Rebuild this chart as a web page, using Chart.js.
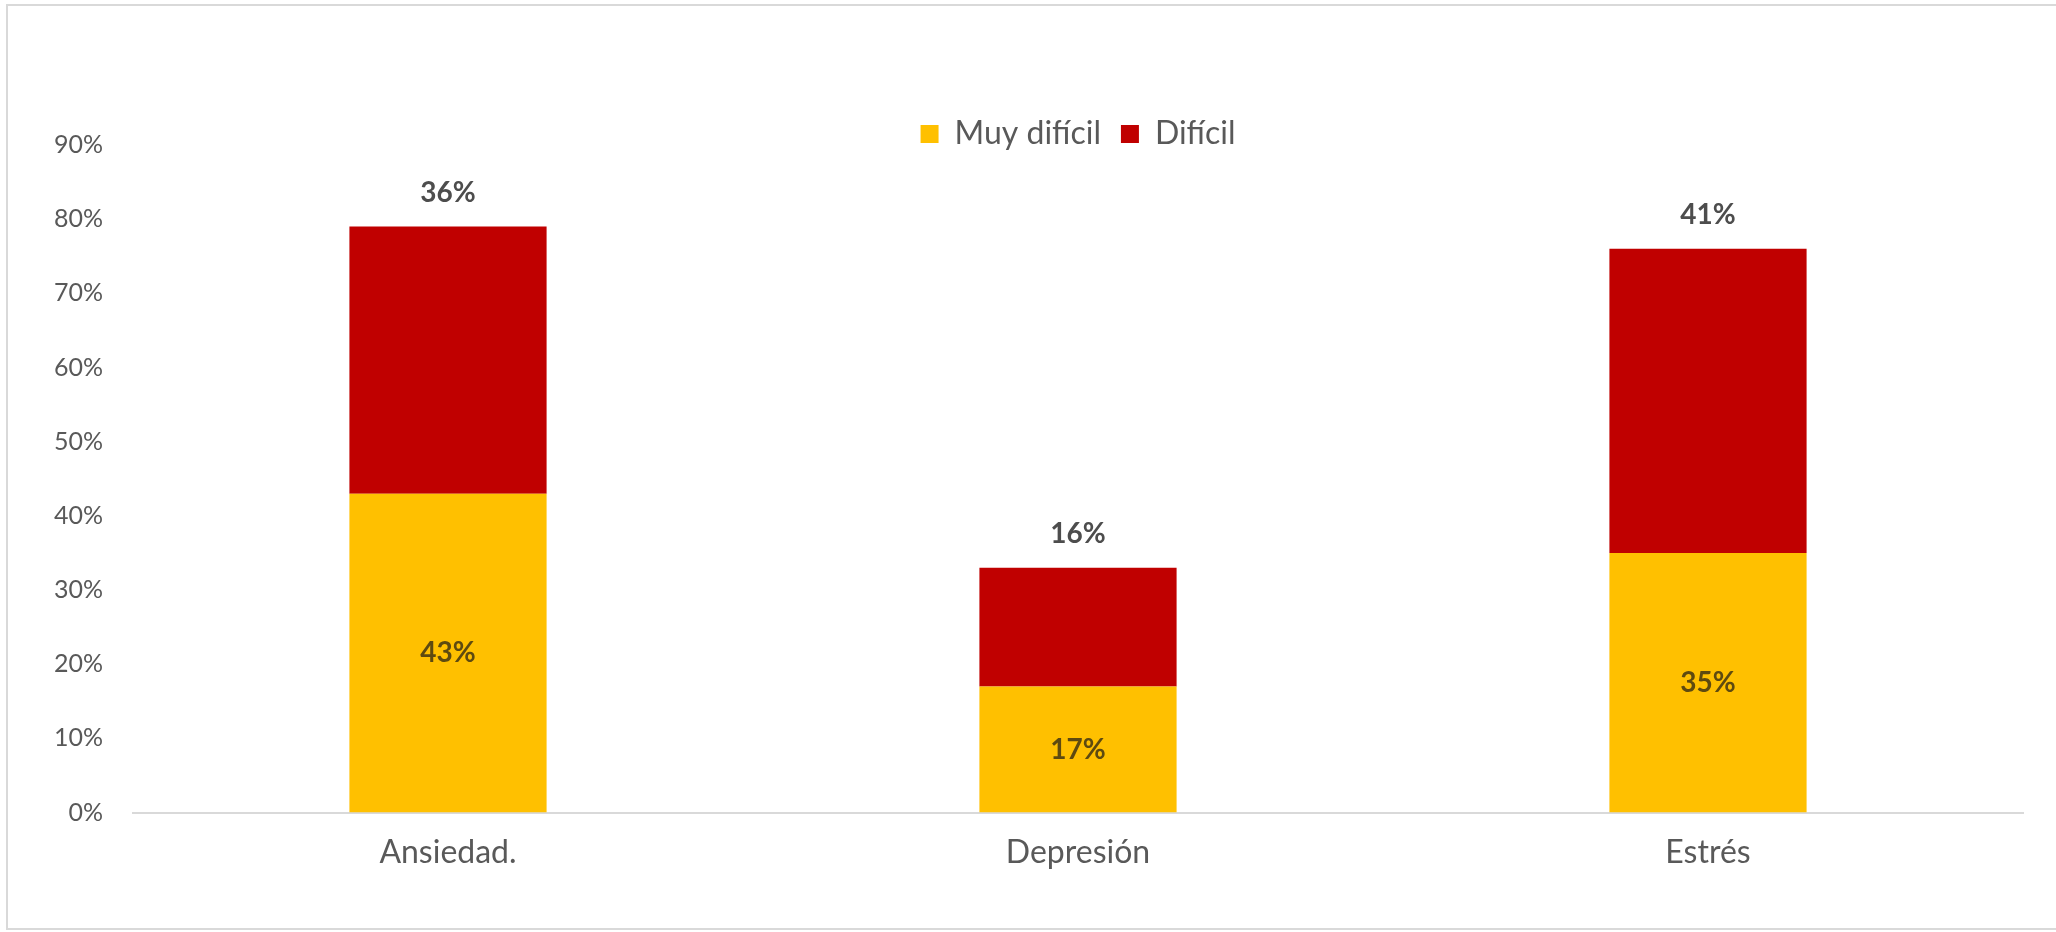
<!DOCTYPE html>
<html>
<head>
<meta charset="utf-8">
<script src="https://cdn.jsdelivr.net/npm/chart.js@4.4.1/dist/chart.umd.min.js"></script>
<style>
  html, body { margin: 0; padding: 0; background: #fff; }
  #wrap { position: relative; width: 2056px; height: 932px; }
</style>
</head>
<body>
<div id="wrap"><canvas id="chart"></canvas></div>
<script>
const categories = ['Ansiedad.', 'Depresión', 'Estrés'];
const muyDificil = [43, 17, 35];
const dificil = [36, 16, 41];
const yTicks = [0, 10, 20, 30, 40, 50, 60, 70, 80, 90];

const FONT = 'Lato, "Open Sans", sans-serif';

// frame drawn around the whole picture, like the excel chart border
const framePlugin = {
  id: 'frame',
  beforeDraw(chart) {
    const ctx = chart.ctx;
    ctx.save();
    ctx.fillStyle = '#fff';
    ctx.fillRect(0, 0, chart.width, chart.height);
    ctx.strokeStyle = '#d9d9d9';
    ctx.lineWidth = 2;
    ctx.strokeRect(7, 5, chart.width + 20, chart.height - 8);
    ctx.restore();
  },
  // excel puts the legend closer to the plot than chart.js does
  afterLayout(chart) {
    const lg = chart.legend;
    if (lg) { lg.top += 15; lg.bottom += 15; }
  }
};

// value labels: centered in yellow segment, above the red one
const valueLabels = {
  id: 'valueLabels',
  afterDatasetsDraw(chart) {
    const ctx = chart.ctx;
    ctx.save();
    ctx.textAlign = 'center';
    ctx.textBaseline = 'middle';
    ctx.font = 'bold 28px ' + FONT;
    chart.getDatasetMeta(0).data.forEach((bar, i) => {
      ctx.fillStyle = '#5e4a10';
      ctx.fillText(muyDificil[i] + '%', bar.x, (bar.y + bar.base) / 2);
    });
    chart.getDatasetMeta(1).data.forEach((bar, i) => {
      ctx.fillStyle = '#4d4d4d';
      ctx.fillText(dificil[i] + '%', bar.x, bar.y - 34);
    });
    ctx.restore();
  }
};

new Chart(document.getElementById('chart'), {
  type: 'bar',
  data: {
    labels: categories,
    datasets: [
      {
        label: 'Muy difícil',
        data: muyDificil,
        backgroundColor: '#ffc000',
        barPercentage: 0.313,
        categoryPercentage: 1
      },
      {
        label: 'Difícil',
        data: dificil,
        backgroundColor: '#c00000',
        barPercentage: 0.313,
        categoryPercentage: 1
      }
    ]
  },
  options: {
    responsive: true,
    maintainAspectRatio: false,
    animation: false,
    layout: { padding: { top: 83, right: 33, bottom: 47, left: 0 } },
    plugins: {
      legend: {
        position: 'top',
        fullSize: false,
        labels: {
          boxWidth: 18,
          boxHeight: 18,
          padding: 20,
          color: '#595959',
          font: { family: FONT, size: 32 }
        }
      },
      tooltip: { enabled: false }
    },
    scales: {
      x: {
        stacked: true,
        grid: { display: false },
        border: { color: '#d9d9d9', width: 2 },
        ticks: { color: '#595959', padding: 13, font: { family: FONT, size: 32 } }
      },
      y: {
        stacked: true,
        min: 0,
        max: 90,
        afterBuildTicks(scale) {
          scale.ticks = yTicks.map(v => ({ value: v }));
        },
        afterFit(scale) { scale.width = 133; },
        grid: { display: false, drawTicks: false },
        border: { display: false },
        ticks: {
          color: '#595959',
          padding: 30,
          font: { family: FONT, size: 25 },
          callback: v => v + '%'
        }
      }
    }
  },
  plugins: [framePlugin, valueLabels]
});
</script>
</body>
</html>
